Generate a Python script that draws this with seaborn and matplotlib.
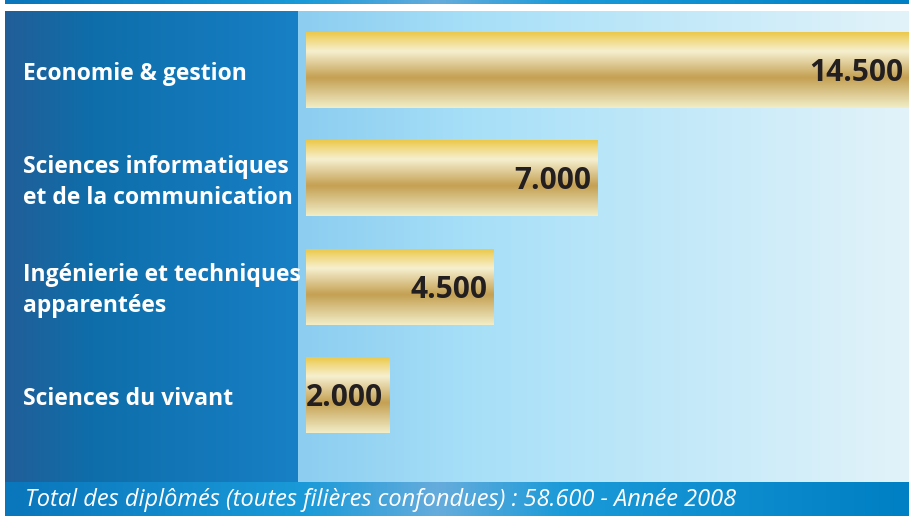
import numpy as np
import matplotlib
matplotlib.use("Agg")
import matplotlib.pyplot as plt
import matplotlib.transforms as mtransforms
from matplotlib.colors import LinearSegmentedColormap
import seaborn as sns
import pandas as pd

# data
categories = ["Economie & gestion",
              "Sciences informatiques\net de la communication",
              "Ingénierie et techniques\napparentées",
              "Sciences du vivant"]
diplomes = [14500, 7000, 4500, 2000]
value_labels = ["14.500", "7.000", "4.500", "2.000"]
footer = "Total des diplômés (toutes filières confondues) : 58.600 - Année 2008"

W, H = 909, 516
sns.set_theme(style="white")
plt.rcParams["font.family"] = ["Open Sans", "DejaVu Sans"]


def cmap_from(stops):
    return LinearSegmentedColormap.from_list("g", stops)


def hgrad(ax, stops, extent):
    ax.imshow(np.linspace(0, 1, 256)[None, :], cmap=cmap_from(stops),
              extent=extent, aspect="auto", interpolation="bicubic")


fig = plt.figure(figsize=(W / 100, H / 100), dpi=100)

# background decoration (pixel coordinates)
bg = fig.add_axes([0, 0, 1, 1])
band = [(0, "#0a76bc"), (0.33, "#1a9ad8"), (0.48, "#66acdc"), (0.62, "#1a9ad8"), (1, "#0080c4")]
hgrad(bg, band, (5, W, 4, 0))
hgrad(bg, band, (5, W, H, 482))
hgrad(bg, [(0, "#225e98"), (0.3, "#0e6eaa"), (1, "#1880c6")], (5, 298, 482, 11))
hgrad(bg, [(0, "#8ccdf0"), (0.3, "#a8e0f8"), (1, "#e2f3fa")], (298, W, 482, 11))
bg.text(25, 500, footer, color="white", fontsize=17, style="italic", va="center")
bg.set_xlim(0, W)
bg.set_ylim(H, 0)
bg.axis("off")

# bars
df = pd.DataFrame({"filiere": categories, "diplomes": diplomes})
ax = fig.add_axes([306 / W, (H - 482) / H, (W - 306) / W, (482 - 11) / H])
ax.patch.set_alpha(0)
sns.barplot(data=df, x="diplomes", y="filiere", orient="h", ax=ax,
            width=0.70, color="#d4b45a", saturation=1)

gold = cmap_from([(0, "#ecc94a"), (0.25, "#f6f0d0"), (0.6, "#c4a052"), (1, "#f2eec8")])
for p in ax.patches:
    x0, y0, w, h = p.get_x(), p.get_y(), p.get_width(), p.get_height()
    im = ax.imshow(np.linspace(0, 1, 256)[:, None], cmap=gold, aspect="auto",
                   extent=(x0, x0 + w, y0 + h, y0), interpolation="bicubic", zorder=2)
    im.set_clip_path(p)
    p.set_facecolor("none")
    p.set_edgecolor("none")

# values, right-aligned inside the bar ends
val_trans = mtransforms.offset_copy(ax.transData, fig=fig, x=-6, y=-3, units="dots")
for i, (v, lab) in enumerate(zip(diplomes, value_labels)):
    ax.text(v, i, lab, transform=val_trans, ha="right", va="center", fontsize=21.5,
            fontweight="bold", color="#231f20", zorder=3)

# category labels in the dark left panel
cat_trans = mtransforms.offset_copy(
    mtransforms.blended_transform_factory(fig.transFigure, ax.transData),
    fig=fig, x=0, y=-4, units="dots")
for i, name in enumerate(categories):
    ax.text(23 / W, i, name, transform=cat_trans, ha="left", va="center",
            color="white", fontsize=16.5, fontweight="bold", linespacing=1.4)

ax.set_xlim(0, 14500)
ax.set_ylim(3.803, -0.545)
ax.axis("off")

fig.savefig("out.png", dpi=100)
